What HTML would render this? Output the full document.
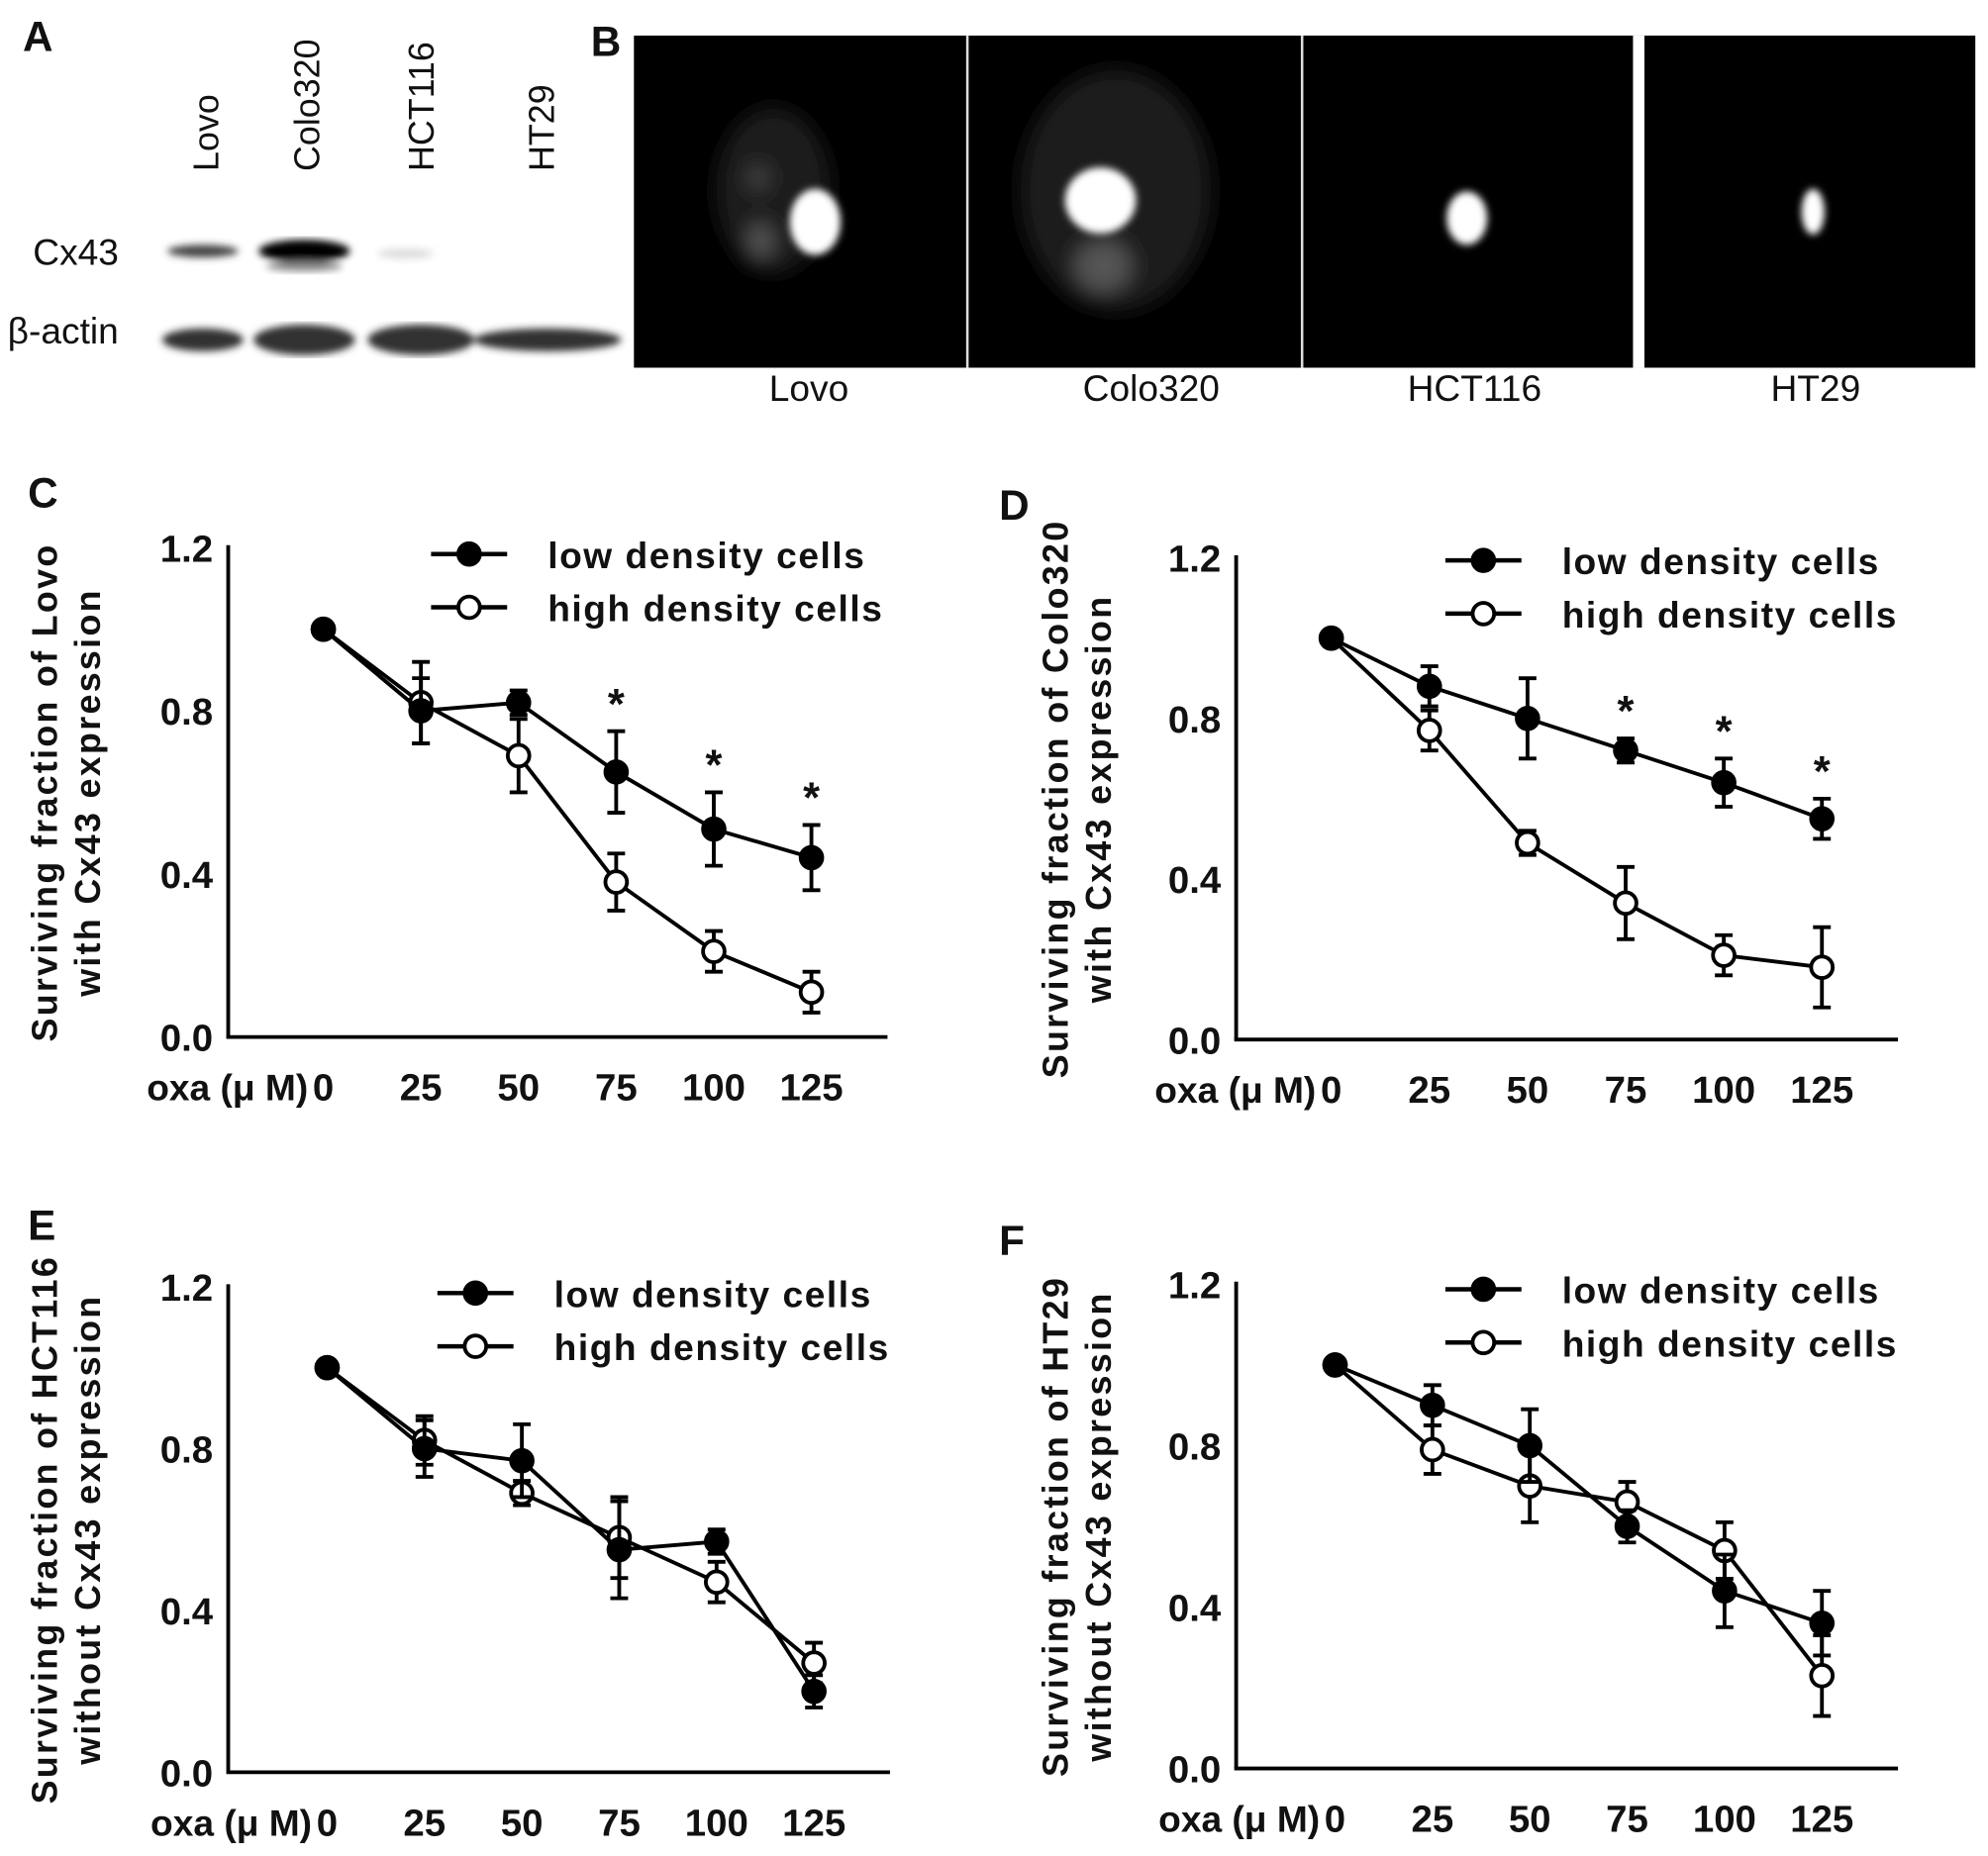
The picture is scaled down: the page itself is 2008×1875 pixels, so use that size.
<!DOCTYPE html>
<html><head><meta charset="utf-8"><style>
html,body{margin:0;padding:0;background:#fff}
svg{display:block}
text{font-family:"Liberation Sans",Arial,sans-serif;fill:#111}
.b{font-weight:bold}
</style></head><body>
<svg id="fig" width="2008" height="1875" viewBox="0 0 1568 1464" xmlns="http://www.w3.org/2000/svg">
<defs>
<filter id="blur4"><feGaussianBlur stdDeviation="4"/></filter>
<filter id="blur8"><feGaussianBlur stdDeviation="8"/></filter>
<filter id="blur3"><feGaussianBlur stdDeviation="3"/></filter>
</defs>
<g>
<text x="18" y="40" font-size="33" class="b">A</text>
<text transform="translate(172,135) rotate(-90)" font-size="28">Lovo</text>
<text transform="translate(252,135) rotate(-90)" font-size="28">Colo320</text>
<text transform="translate(342,135) rotate(-90)" font-size="28">HCT116</text>
<text transform="translate(437,135) rotate(-90)" font-size="28">HT29</text>
<text x="26" y="209" font-size="29">Cx43</text>
<text x="6" y="271" font-size="29">β-actin</text>
<g filter="url(#blur3)">
<ellipse cx="160" cy="198" rx="28" ry="5" fill="#444"/>
<ellipse cx="240" cy="198" rx="36" ry="9" fill="#000"/>
<ellipse cx="240" cy="210" rx="30" ry="4" fill="#888"/>
<ellipse cx="320" cy="200" rx="22" ry="4" fill="#ddd"/>
</g>
<g filter="url(#blur3)">
<ellipse cx="160" cy="268" rx="32" ry="9" fill="#333"/>
<ellipse cx="240" cy="268" rx="40" ry="12" fill="#333"/>
<ellipse cx="332" cy="268" rx="42" ry="12" fill="#333"/>
<ellipse cx="432" cy="268" rx="58" ry="9" fill="#333"/>
</g>
</g>
<g>
<text x="466" y="44" font-size="33" class="b">B</text>
<rect x="500" y="28" width="1058" height="262" fill="#000"/>
<rect x="762" y="28" width="2" height="262" fill="#ddd"/>
<rect x="1026" y="28" width="2" height="262" fill="#ddd"/>
<rect x="1288" y="28" width="9" height="262" fill="#fff"/>
<g filter="url(#blur8)">
<ellipse cx="610" cy="150" rx="45" ry="65" fill="#1c1c1c"/>
<ellipse cx="880" cy="150" rx="75" ry="95" fill="#1e1e1e"/>
<ellipse cx="600" cy="190" rx="10" ry="14" fill="#555"/>
<ellipse cx="598" cy="140" rx="8" ry="10" fill="#444"/>
<ellipse cx="870" cy="210" rx="22" ry="20" fill="#555"/>
</g>
<g filter="url(#blur3)">
<ellipse cx="643" cy="175" rx="20" ry="26" fill="#fff"/>
<ellipse cx="868" cy="158" rx="28" ry="26" fill="#fff"/>
<ellipse cx="1157" cy="172" rx="16" ry="21" fill="#fff"/>
<ellipse cx="1430" cy="167" rx="9" ry="18" fill="#fff"/>
</g>
<text x="638" y="316" font-size="29" text-anchor="middle">Lovo</text>
<text x="908" y="316" font-size="29" text-anchor="middle">Colo320</text>
<text x="1163" y="316" font-size="29" text-anchor="middle">HCT116</text>
<text x="1432" y="316" font-size="29" text-anchor="middle">HT29</text>
</g>
<g id="charts"></g>
</svg>
<script>
const doses = [0, 25, 50, 75, 100, 125];
const yTicks = [0.0, 0.4, 0.8, 1.2];
const yTickLabels = ["0.0", "0.4", "0.8", "1.2"];
const cLow = [1.0, 0.80, 0.82, 0.65, 0.51, 0.44];
const cLowErr = [0, 0.08, 0.03, 0.10, 0.09, 0.08];
const cHigh = [1.0, 0.82, 0.69, 0.38, 0.21, 0.11];
const cHighErr = [0, 0.10, 0.09, 0.07, 0.05, 0.05];
const cStars = [75, 100, 125];
const dLow = [1.0, 0.88, 0.80, 0.72, 0.64, 0.55];
const dLowErr = [0, 0.05, 0.10, 0.03, 0.06, 0.05];
const dHigh = [1.0, 0.77, 0.49, 0.34, 0.21, 0.18];
const dHighErr = [0, 0.05, 0.03, 0.09, 0.05, 0.10];
const dStars = [75, 100, 125];
const eLow = [1.0, 0.80, 0.77, 0.55, 0.57, 0.20];
const eLowErr = [0, 0.07, 0.09, 0.12, 0.03, 0.04];
const eHigh = [1.0, 0.82, 0.69, 0.58, 0.47, 0.27];
const eHighErr = [0, 0.06, 0.03, 0.10, 0.05, 0.05];
const fLow = [1.0, 0.90, 0.80, 0.60, 0.44, 0.36];
const fLowErr = [0, 0.05, 0.09, 0.04, 0.09, 0.08];
const fHigh = [1.0, 0.79, 0.70, 0.66, 0.54, 0.23];
const fHighErr = [0, 0.06, 0.09, 0.05, 0.07, 0.10];

const NS = "http://www.w3.org/2000/svg";
const root = document.getElementById("charts");
function mk(tag, attrs, parent) {
  const e = document.createElementNS(NS, tag);
  for (const k in attrs) e.setAttribute(k, attrs[k]);
  (parent || root).appendChild(e);
  return e;
}
const panels = [
  {id:"c", letter:"C", lx:22, ly:400, ax:180, y0:818, y1:432, x0:255, x1:640, xr:700, t1:"Surviving fraction of Lovo", t2:"with Cx43 expression", tx:35, low:cLow, lowE:cLowErr, high:cHigh, highE:cHighErr, stars:cStars, legX:340, legY:437},
  {id:"d", letter:"D", lx:788, ly:410, ax:975, y0:820, y1:440, x0:1050, x1:1437, xr:1497, t1:"Surviving fraction of Colo320", t2:"with Cx43 expression", tx:832, low:dLow, lowE:dLowErr, high:dHigh, highE:dHighErr, stars:dStars, legX:1140, legY:442},
  {id:"e", letter:"E", lx:22, ly:978, ax:180, y0:1398, y1:1015, x0:258, x1:642, xr:702, t1:"Surviving fraction of HCT116", t2:"without Cx43 expression", tx:35, low:eLow, lowE:eLowErr, high:eHigh, highE:eHighErr, stars:[], legX:345, legY:1020},
  {id:"f", letter:"F", lx:788, ly:990, ax:975, y0:1395, y1:1013, x0:1053, x1:1437, xr:1497, t1:"Surviving fraction of HT29", t2:"without Cx43 expression", tx:832, low:fLow, lowE:fLowErr, high:fHigh, highE:fHighErr, stars:[], legX:1140, legY:1017}
];
panels.forEach(p => {
  const g = mk("g", {});
  
  
  const X = v => p.x0 + (v - doses[0]) / (doses[doses.length-1] - doses[0]) * (p.x1 - p.x0);
  const Y = v => p.y0 - v / 1.2 * (p.y0 - p.y1);
  const L = mk("text", {x:p.lx, y:p.ly, "font-size":33, "class":"b"}, g); L.textContent = p.letter;
  
  
  const ya = mk("line", {x1:p.ax, y1:p.y1-2, x2:p.ax, y2:p.y0, stroke:"#000", "stroke-width":3}, g);
  
  
  const xa = mk("line", {x1:p.ax-1.5, y1:p.y0, x2:p.xr, y2:p.y0, stroke:"#000", "stroke-width":3}, g);
  
  
  yTicks.forEach((t, i) => {
    const tl = mk("text", {x:p.ax-12, y:Y(t)+11, "font-size":30, "class":"b", "text-anchor":"end"}, g);
    tl.textContent = yTickLabels[i];
    
    
  });
  doses.forEach(d => {
    const tl = mk("text", {x:X(d), y:p.y0+50, "font-size":30, "class":"b", "text-anchor":"middle"}, g);
    tl.textContent = String(d);
    
    
  });
  const ox = mk("text", {x:X(0)-12, y:p.y0+50, "font-size":29, "class":"b", "text-anchor":"end"}, g);
  ox.textContent = "oxa (μ M)";
  
  
  const cy = (p.y0 + p.y1) / 2;
  const t1 = mk("text", {transform:"translate(" + (p.tx+10) + "," + cy + ") rotate(-90)", "font-size":28, "class":"b", "text-anchor":"middle", "letter-spacing":"1.8"}, g);
  t1.textContent = p.t1;
  
  
  const t2 = mk("text", {transform:"translate(" + (p.tx+44) + "," + cy + ") rotate(-90)", "font-size":28, "class":"b", "text-anchor":"middle", "letter-spacing":"1.8"}, g);
  t2.textContent = p.t2;
  
  
  [[p.high, p.highE, "#fff", "high"], [p.low, p.lowE, "#000", "low"]].forEach(s => {
    const vals = s[0], errs = s[1];
    const pts = vals.map((v, i) => X(doses[i]) + "," + Y(v)).join(" ");
    const pl = mk("polyline", {points:pts, fill:"none", stroke:"#000", "stroke-width":3}, g);
    
    
    vals.forEach((v, i) => {
      if (errs[i] > 0) {
        const x = X(doses[i]);
        const eb = mk("path", {d:"M" + x + "," + Y(v - errs[i]) + "V" + Y(v + errs[i]) + "M" + (x-7) + "," + Y(v + errs[i]) + "h14M" + (x-7) + "," + Y(v - errs[i]) + "h14", stroke:"#000", "stroke-width":3, fill:"none"}, g);
        
        
      }
    });
    vals.forEach((v, i) => {
      const c = mk("circle", {cx:X(doses[i]), cy:Y(v), r:8.5, fill:s[2], stroke:"#000", "stroke-width":3}, g);
      
      
    });
  });
  p.stars.forEach(d => {
    const i = doses.indexOf(d);
    const top = Math.max(p.low[i] + p.lowE[i], p.high[i] + p.highE[i]);
    const st = mk("text", {x:X(d), y:Y(top) - 10, "font-size":34, "class":"b", "text-anchor":"middle"}, g);
    st.textContent = "*";
    
    
  });
  [["low density cells", "#000", 0], ["high density cells", "#fff", 42]].forEach(l => {
    const lg = mk("g", {}, g);
    
    
    const y = p.legY + l[2];
    mk("line", {x1:p.legX, y1:y, x2:p.legX+60, y2:y, stroke:"#000", "stroke-width":3.5}, lg);
    mk("circle", {cx:p.legX+30, cy:y, r:8.5, fill:l[1], stroke:"#000", "stroke-width":3}, lg);
    const lt = mk("text", {x:p.legX+92, y:y+11, "font-size":29, "class":"b", "letter-spacing":"1.2"}, lg);
    lt.textContent = l[0];
  });
});
</script>
</body></html>
